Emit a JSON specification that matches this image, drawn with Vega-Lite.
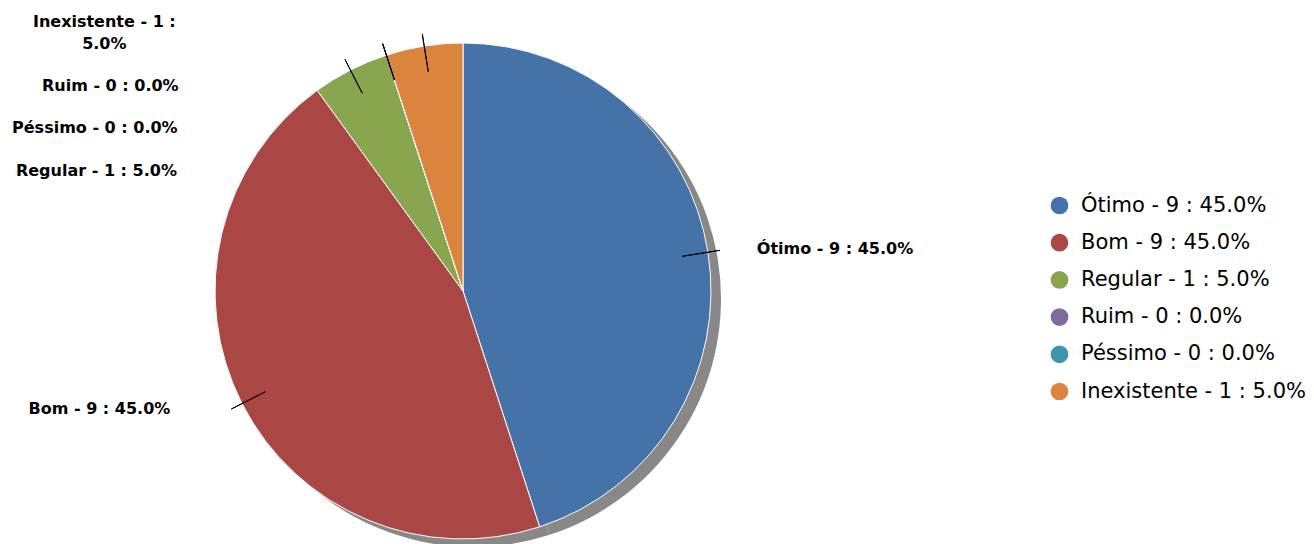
{
  "$schema": "https://vega.github.io/schema/vega-lite/v6.json",
  "autosize": {"type": "none"},
  "padding": {"left": 0, "top": 38, "right": 388, "bottom": 0},
  "width": 926,
  "height": 506,
  "background": "white",
  "config": {"view": {"stroke": null}},
  "data": {
    "values": [
      {"Categoria": "Ótimo", "Quantidade": 9, "Percentual": 45.0, "Rotulo": "Ótimo - 9 : 45.0%", "ordem": 1},
      {"Categoria": "Bom", "Quantidade": 9, "Percentual": 45.0, "Rotulo": "Bom - 9 : 45.0%", "ordem": 2},
      {"Categoria": "Regular", "Quantidade": 1, "Percentual": 5.0, "Rotulo": "Regular - 1 : 5.0%", "ordem": 3},
      {"Categoria": "Ruim", "Quantidade": 0, "Percentual": 0.0, "Rotulo": "Ruim - 0 : 0.0%", "ordem": 4},
      {"Categoria": "Péssimo", "Quantidade": 0, "Percentual": 0.0, "Rotulo": "Péssimo - 0 : 0.0%", "ordem": 5},
      {"Categoria": "Inexistente", "Quantidade": 1, "Percentual": 5.0, "Rotulo": "Inexistente - 1 : 5.0%", "ordem": 6}
    ]
  },
  "layer": [
    {
      "mark": {"type": "arc", "radius": 248, "color": "#888888", "xOffset": 10, "yOffset": 8},
      "encoding": {
        "theta": {"field": "Quantidade", "type": "quantitative", "stack": true, "scale": {"domain": [0, 20]}},
        "order": {"field": "ordem", "type": "quantitative"}
      }
    },
    {
      "mark": {"type": "arc", "radius": 248, "stroke": "white", "strokeWidth": 1},
      "encoding": {
        "theta": {"field": "Quantidade", "type": "quantitative", "stack": true, "scale": {"domain": [0, 20]}},
        "order": {"field": "ordem", "type": "quantitative"},
        "color": {
          "field": "Rotulo",
          "type": "nominal",
          "sort": null,
          "scale": {
            "domain": ["Ótimo - 9 : 45.0%", "Bom - 9 : 45.0%", "Regular - 1 : 5.0%", "Ruim - 0 : 0.0%", "Péssimo - 0 : 0.0%", "Inexistente - 1 : 5.0%"],
            "range": ["#4572A7", "#AA4643", "#89A54E", "#80699B", "#3D96AE", "#DB843D"]
          },
          "legend": {
            "title": null,
            "orient": "none",
            "legendX": 1049,
            "legendY": 157,
            "padding": 0,
            "symbolType": "circle",
            "symbolSize": 314,
            "symbolStrokeWidth": 0,
            "symbolOpacity": 1,
            "rowPadding": 15.2,
            "labelOffset": 11,
            "labelFont": "DejaVu Sans",
            "labelFontSize": 21,
            "labelColor": "#000000",
            "labelLimit": 500
          }
        }
      }
    },
    {
      "transform": [
        {"stack": "Quantidade", "groupby": [], "sort": [{"field": "ordem", "order": "ascending"}], "as": ["ini", "fim"]},
        {"fold": ["ini", "fim"], "as": ["borda", "ang"]},
        {"aggregate": [{"op": "mean", "field": "ang", "as": "meio"}], "groupby": ["Categoria", "Rotulo", "ordem"]}
      ],
      "layer": [
        {
          "mark": {"type": "arc", "radius": 260, "radius2": 222, "stroke": "#000000", "strokeWidth": 1, "fill": null},
          "encoding": {
            "theta": {"field": "meio", "type": "quantitative", "scale": {"domain": [0, 20]}},
            "theta2": {"field": "meio"}
          }
        },
        {
          "transform": [{"filter": "datum.Categoria === 'Ótimo'"}],
          "mark": {"type": "text", "radius": 260, "align": "left", "baseline": "middle", "dx": 37, "dy": -1, "font": "DejaVu Sans", "fontWeight": "bold", "fontSize": 16, "color": "#000000"},
          "encoding": {
            "theta": {"field": "meio", "type": "quantitative", "stack": null, "scale": {"domain": [0, 20]}},
            "text": {"field": "Rotulo"}
          }
        },
        {
          "transform": [{"filter": "datum.Categoria === 'Bom'"}],
          "mark": {"type": "text", "radius": 260, "align": "right", "baseline": "middle", "dx": -61, "dy": 0, "font": "DejaVu Sans", "fontWeight": "bold", "fontSize": 16, "color": "#000000"},
          "encoding": {
            "theta": {"field": "meio", "type": "quantitative", "stack": null, "scale": {"domain": [0, 20]}},
            "text": {"field": "Rotulo"}
          }
        },
        {
          "transform": [{"filter": "datum.Categoria === 'Regular'"}],
          "mark": {"type": "text", "radius": 260, "align": "right", "baseline": "middle", "dx": -168, "dy": 112, "font": "DejaVu Sans", "fontWeight": "bold", "fontSize": 16, "color": "#000000"},
          "encoding": {
            "theta": {"field": "meio", "type": "quantitative", "stack": null, "scale": {"domain": [0, 20]}},
            "text": {"field": "Rotulo"}
          }
        },
        {
          "transform": [{"filter": "datum.Categoria === 'Ruim'"}],
          "mark": {"type": "text", "radius": 260, "align": "right", "baseline": "middle", "dx": -204, "dy": 42, "font": "DejaVu Sans", "fontWeight": "bold", "fontSize": 16, "color": "#000000"},
          "encoding": {
            "theta": {"field": "meio", "type": "quantitative", "stack": null, "scale": {"domain": [0, 20]}},
            "text": {"field": "Rotulo"}
          }
        },
        {
          "transform": [{"filter": "datum.Categoria === 'Péssimo'"}],
          "mark": {"type": "text", "radius": 260, "align": "right", "baseline": "middle", "dx": -205, "dy": 84, "font": "DejaVu Sans", "fontWeight": "bold", "fontSize": 16, "color": "#000000"},
          "encoding": {
            "theta": {"field": "meio", "type": "quantitative", "stack": null, "scale": {"domain": [0, 20]}},
            "text": {"field": "Rotulo"}
          }
        },
        {
          "transform": [{"filter": "datum.Categoria === 'Inexistente'"}],
          "mark": {"type": "text", "radius": 260, "align": "center", "baseline": "middle", "dx": -318, "dy": -12, "lineHeight": 22, "lineBreak": {"expr": "regexp('(?<=:) ')"}, "font": "DejaVu Sans", "fontWeight": "bold", "fontSize": 16, "color": "#000000"},
          "encoding": {
            "theta": {"field": "meio", "type": "quantitative", "stack": null, "scale": {"domain": [0, 20]}},
            "text": {"field": "Rotulo"}
          }
        }
      ]
    }
  ]
}
